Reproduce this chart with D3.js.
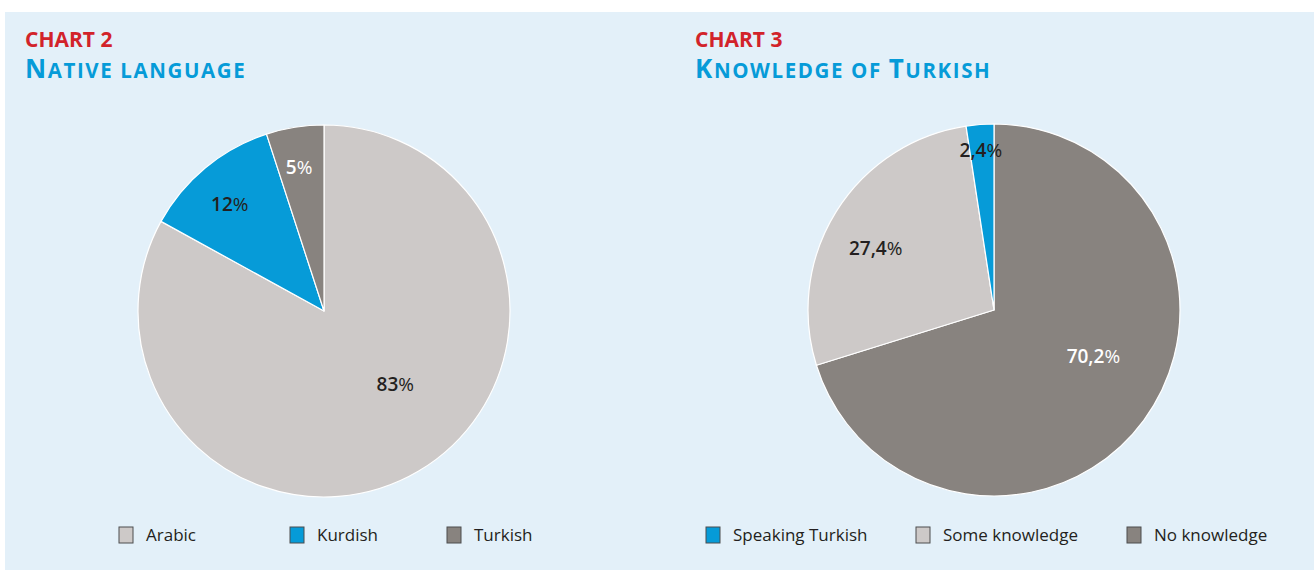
<!DOCTYPE html>
<html>
<head>
<meta charset="utf-8">
<script src="https://cdn.jsdelivr.net/npm/d3@7"></script>
<style>
  html, body { margin: 0; padding: 0; background: #ffffff; }
  svg text { font-family: "Open Sans", "Noto Sans", sans-serif; }
</style>
</head>
<body>
<div id="chart"></div>
<script>
// Chart 2 - native language
const nativeLabels = ['Arabic', 'Kurdish', 'Turkish'];
const nativeValues = [83, 12, 5];
const nativeText = ['83%', '12%', '5%'];

// Chart 3 - knowledge of Turkish (pie order, clockwise from top)
const turkishLabels = ['No knowledge', 'Some knowledge', 'Speaking Turkish'];
const turkishValues = [70.2, 27.4, 2.4];
const turkishText = ['70,2%', '27,4%', '2,4%'];
const turkishLegendOrder = ['Speaking Turkish', 'Some knowledge', 'No knowledge'];

const colors = {
    'Arabic': '#cdc9c8',
    'Kurdish': '#069bd8',
    'Turkish': '#88837f',
    'Speaking Turkish': '#069bd8',
    'Some knowledge': '#cdc9c8',
    'No knowledge': '#88837f'
};
const labelColors = {
    'Arabic': '#231f20',
    'Kurdish': '#231f20',
    'Turkish': '#ffffff',
    'Speaking Turkish': '#231f20',
    'Some knowledge': '#231f20',
    'No knowledge': '#ffffff'
};

const width = 1314, height = 570;
const svg = d3.select('#chart').append('svg')
    .attr('width', width)
    .attr('height', height);

svg.append('rect')
    .attr('x', 5).attr('y', 12)
    .attr('width', width - 5).attr('height', height - 12)
    .attr('fill', '#e3f0f9');

// fake small caps: capital letters full size, the rest uppercase and smaller
function smallCaps(text, sel, big, small) {
    const parts = text.match(/[A-Z]|[^A-Z]+/g);
    parts.forEach(p => {
        const isCap = /^[A-Z]$/.test(p);
        sel.append('tspan')
            .attr('font-size', isCap ? big : small)
            .text(p.toUpperCase());
    });
}

function drawPanel(opts) {
    const g = svg.append('g').attr('transform', `translate(${opts.x},0)`);

    g.append('text')
        .attr('x', 20).attr('y', 47)
        .attr('fill', '#d2232a')
        .attr('font-size', 21)
        .attr('font-weight', 700)
        .text(opts.number);

    const title = g.append('text')
        .attr('x', 20).attr('y', 78)
        .attr('fill', '#069bd8')
        .attr('font-weight', 700)
        .attr('letter-spacing', 1.6);
    smallCaps(opts.title, title, 26, 20.5);

    const radius = 186;
    const data = opts.labels.map((l, i) => ({ label: l, value: opts.values[i], text: opts.texts[i] }));
    const total = d3.sum(data, d => d.value);

    const pie = d3.pie().sort(null).value(d => d.value);
    const arc = d3.arc().innerRadius(0).outerRadius(radius);

    const pg = g.append('g').attr('transform', `translate(${opts.cx},${opts.cy})`);
    const arcs = pie(data);

    pg.selectAll('path')
        .data(arcs)
        .join('path')
        .attr('d', arc)
        .attr('fill', d => colors[d.data.label])
        .attr('stroke', '#ffffff')
        .attr('stroke-width', 1.2)
        .attr('stroke-linejoin', 'round');

    // labels: thin slices pushed out to the rim, large ones nudged back a bit
    pg.selectAll('text')
        .data(arcs)
        .join('text')
        .attr('transform', d => {
            const f = d.data.value / total;
            const r = radius * (f < 0.03 ? 0.86 : 0.80 - 0.3 * f);
            const sweep = d.endAngle - d.startAngle;
            const a = (d.startAngle + d.endAngle) / 2 - 0.045 * sweep;
            return `translate(${Math.sin(a) * r},${-Math.cos(a) * r})`;
        })
        .attr('text-anchor', 'middle')
        .attr('dy', '0.35em')
        .attr('font-size', 19)
        .attr('fill', d => labelColors[d.data.label])
        .each(function(d) {
            const t = d3.select(this);
            const num = d.data.text.replace('%', '');
            t.append('tspan').attr('font-weight', 600).text(num);
            t.append('tspan').attr('font-weight', 400).text('%');
        });

    const legend = g.append('g').attr('transform', 'translate(0,535)');
    const items = legend.selectAll('g')
        .data(opts.legend)
        .join('g')
        .attr('transform', (d, i) => `translate(${opts.legendX[i]},0)`);

    items.append('rect')
        .attr('x', 0).attr('y', -8)
        .attr('width', 14).attr('height', 16)
        .attr('fill', d => colors[d])
        .attr('stroke', '#4d4d4f')
        .attr('stroke-width', 1);

    items.append('text')
        .attr('x', 27).attr('y', 0)
        .attr('dy', '0.35em')
        .attr('font-size', 17)
        .attr('fill', '#231f20')
        .text(d => d);
}

drawPanel({
    x: 5,
    number: 'CHART 2',
    title: 'Native language',
    labels: nativeLabels,
    values: nativeValues,
    texts: nativeText,
    legend: nativeLabels,
    legendX: [114, 285, 442],
    cx: 319, cy: 311
});

drawPanel({
    x: 675,
    number: 'CHART 3',
    title: 'Knowledge of Turkish',
    labels: turkishLabels,
    values: turkishValues,
    texts: turkishText,
    legend: turkishLegendOrder,
    legendX: [31, 241, 452],
    cx: 319, cy: 310
});
</script>
</body>
</html>
